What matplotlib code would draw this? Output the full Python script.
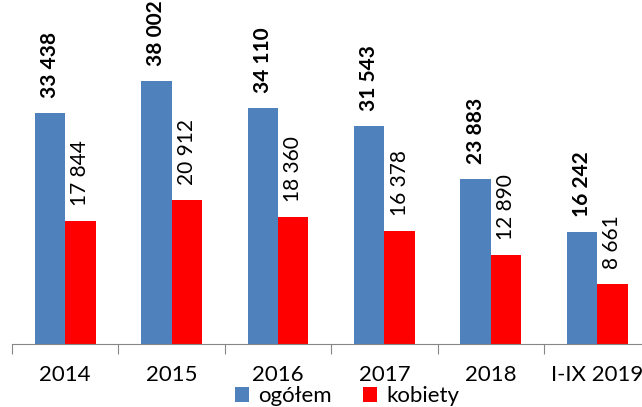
import matplotlib
matplotlib.use("Agg")
import matplotlib.pyplot as plt
import numpy as np

categories = ["2014", "2015", "2016", "2017", "2018", "I-IX 2019"]
ogolem = [33438, 38002, 34110, 31543, 23883, 16242]
kobiety = [17844, 20912, 18360, 16378, 12890, 8661]
series_names = ["ogółem", "kobiety"]

plt.rcParams['font.family'] = ['Lato', 'DejaVu Sans']

W, H = 642, 407
fig = plt.figure(figsize=(W/100, H/100), dpi=100)

cat_px = 106.4
left_px = 12
axis_y_px = 344
ymax = 50000
px_per_unit = 231 / 33438
ax_h_px = ymax * px_per_unit
ax_w_px = cat_px * 6
ax = fig.add_axes([left_px / W, (H - axis_y_px) / H, ax_w_px / W, ax_h_px / H])

x = np.arange(len(categories))
bw = 0.285
blue = "#4F81BD"
red = "#FF0000"
b1 = ax.bar(x - bw/2, ogolem, bw, color=blue, label=series_names[0])
b2 = ax.bar(x + bw/2, kobiety, bw, color=red, label=series_names[1])

def fmt(v):
    return f"{v:,}".replace(",", " ")

off = 15 / px_per_unit
for xi, v in zip(x, ogolem):
    ax.text(xi - bw/2, v + off, fmt(v), rotation=90, ha="center", va="bottom",
            fontsize=15, fontweight="bold", clip_on=False)
for xi, v in zip(x, kobiety):
    ax.text(xi + bw/2, v + off, fmt(v), rotation=90, ha="center", va="bottom",
            fontsize=15, clip_on=False)

ax.set_xlim(-0.5, 5.5)
ax.set_ylim(0, ymax)
for s in ["top", "right", "left"]:
    ax.spines[s].set_visible(False)
ax.spines["bottom"].set_color("#868686")
ax.set_yticks([])
ax.set_xticks(np.arange(-0.5, 6.0, 1.0))
ax.set_xticklabels([])
ax.tick_params(axis="x", length=7, color="#868686", direction="out")
ax.set_xticks(x, minor=True)
ax.set_xticklabels(categories, minor=True, fontsize=16)
ax.tick_params(axis="x", which="minor", length=0, pad=15)

fig.legend(handles=[b1, b2], labels=series_names, loc="center",
           bbox_to_anchor=(347 / W, 1 - 396 / H), ncol=2, frameon=False, fontsize=16,
           handlelength=0.65, handleheight=0.65, handletextpad=0.4, columnspacing=1.4,
           borderpad=0)

fig.savefig("out.png", dpi=100)
